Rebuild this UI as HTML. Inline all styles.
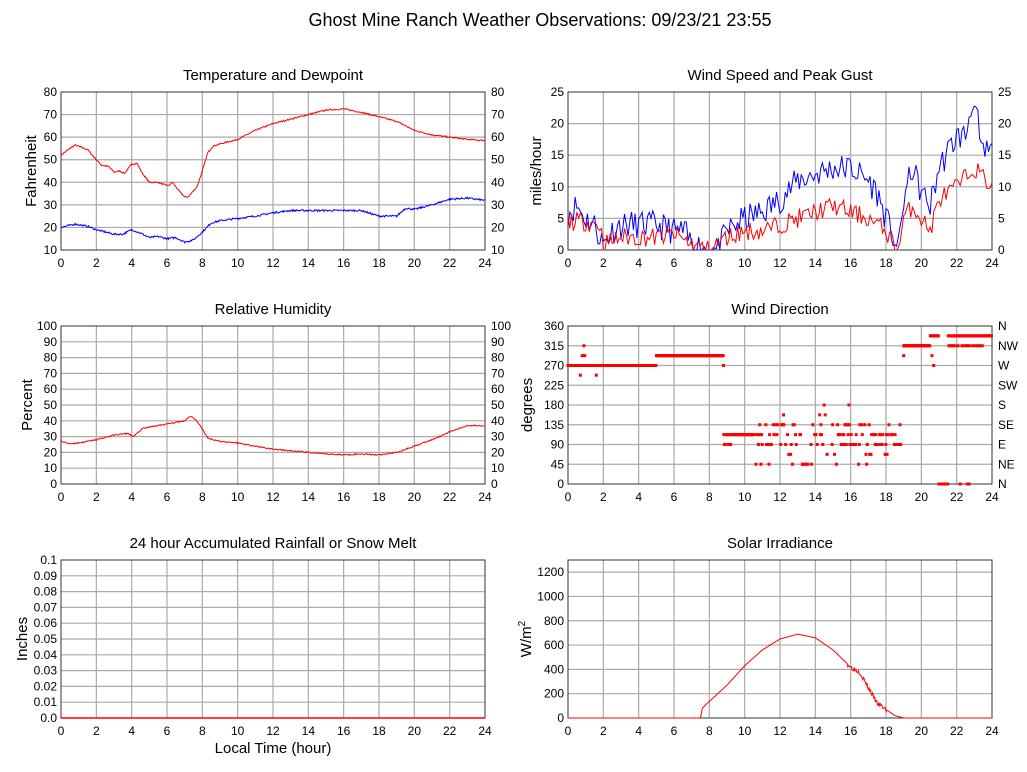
<!DOCTYPE html>
<html><head><meta charset="utf-8"><style>
html,body{margin:0;padding:0;background:#fff;}
svg{display:block;font-family:"Liberation Sans",Arial,sans-serif;}
</style></head><body>
<svg id="s" width="1027" height="772" xmlns="http://www.w3.org/2000/svg">
<rect width="1027" height="772" fill="#fff"/>
<text x="540" y="26" font-size="18" text-anchor="middle">Ghost Mine Ranch Weather Observations: 09/23/21 23:55</text>
</svg>
<script>
var S=document.getElementById('s'),NS='http://www.w3.org/2000/svg';
function el(t,a,txt){var e=document.createElementNS(NS,t);for(var k in a)e.setAttribute(k,a[k]);if(txt!=null)e.textContent=txt;S.appendChild(e);return e;}
var seed=7;function rnd(){seed=(seed*16807)%2147483647;return seed/2147483647;}
function interp(kp,t){for(var i=0;i<kp.length-1;i++){if(t>=kp[i][0]&&t<=kp[i+1][0]){var f=(t-kp[i][0])/(kp[i+1][0]-kp[i][0]);return kp[i][1]+f*(kp[i+1][1]-kp[i][1]);}}return kp[kp.length-1][1];}
function panel(o){
 var x0=o.x,x1=o.x+424,y0=o.y,y1=o.y+158;
 el('text',{x:(x0+x1)/2,y:y0-12,'font-size':15,'text-anchor':'middle'},o.title);
 for(var h=2;h<24;h+=2){var x=x0+h/24*424;el('line',{x1:x,y1:y0,x2:x,y2:y1,stroke:'#aaa','stroke-width':1.2});}
 var n=o.ticks.length;
 for(var i=0;i<n;i++){var v=o.ticks[i];var y=y1-(v-o.min)/(o.max-o.min)*158;
  if(y>y0+0.5&&y<y1-0.5)el('line',{x1:x0,y1:y,x2:x1,y2:y,stroke:'#aaa','stroke-width':1.2});
  el('text',{x:x0-4,y:y+4,'font-size':12,'text-anchor':'end'},o.tl?o.tl[i]:v);
  if(o.rt)el('text',{x:x1+6,y:y+4,'font-size':12},o.rt[i]);}
 for(var h=0;h<=24;h+=2){el('text',{x:x0+h/24*424,y:y1+17,'font-size':12,'text-anchor':'middle'},h);}
 el('rect',{x:x0,y:y0,width:424,height:158,fill:'none',stroke:'#333','stroke-width':1});
 el('text',{x:0,y:0,'font-size':15,'text-anchor':'middle',transform:'translate('+(o.ylx)+','+((y0+y1)/2)+') rotate(-90)'},o.ylabel);
 o.X=function(h){return x0+h/24*424;};o.Y=function(v){return y1-(v-o.min)/(o.max-o.min)*158;};
 return o;}
function series(p,kp,noise,col,step,clamp){var pts=[];step=step||0.04;
 for(var t=0;t<=24.001;t+=step){var v=interp(kp,t)+(rnd()-0.5)*2*noise;if(clamp!=null&&v<clamp)v=clamp;if(v>p.max)v=p.max;pts.push(p.X(t).toFixed(1)+','+p.Y(v).toFixed(1));}
 el('polyline',{points:pts.join(' '),fill:'none',stroke:col,'stroke-width':1});}
function rng(a,b,s){var r=[];for(var v=a;v<=b+1e-9;v+=s)r.push(v);return r;}

var T=panel({x:61,y:92,min:10,max:80,ticks:rng(10,80,10),rt:rng(10,80,10),title:'Temperature and Dewpoint',ylabel:'Fahrenheit',ylx:36});
series(T,[[0,52],[0.5,55],[0.8,56.5],[1.5,54.5],[2,50],[2.3,47.5],[2.7,47],[3,44.5],[3.3,45],[3.6,44],[4,48],[4.3,48.5],[4.6,44],[5,40],[5.5,40],[5.8,39],[6.1,38.5],[6.3,40],[6.7,36],[7,33.5],[7.2,33.5],[7.7,38],[8,45],[8.3,53],[8.6,56],[9,57],[10,59],[11,63],[12,66],[13,68],[14,70],[15,72],[16,72.5],[17,71],[18,69],[19,67],[20,63],[21,61],[22,60],[23,59],[24,58.5]],0.3,'#f00');
series(T,[[0,20],[0.8,21.5],[1.5,20.5],[2,19],[3,17],[3.5,17],[4,19],[4.5,17.5],[5,15.5],[5.5,16],[6,15],[6.5,15.5],[7,13.5],[7.5,14.5],[8,18],[8.5,22],[9,23],[10,24],[11,25],[12,26.5],[13,27.5],[14,27.5],[15,27.5],[16,27.5],[17,27.5],[18,25],[19,25],[19.5,28.5],[20,28],[21,30],[22,32.5],[23,33],[24,32]],0.4,'#00f');

var W=panel({x:568,y:92,min:0,max:25,ticks:rng(0,25,5),rt:rng(0,25,5),title:'Wind Speed and Peak Gust',ylabel:'miles/hour',ylx:541});
seed=11;
series(W,[[0,6],[0.5,7],[1,5],[1.5,4],[2,1],[2.5,3],[3,4],[4,4],[5,4],[6,3],[6.5,3],[7,1],[8,0],[8.5,0],[9,3],[10,5],[11,6],[12,8],[13,11],[14,12],[15,13],[16,13],[17,11],[17.5,9],[18,5],[18.7,0],[19,8],[19.5,13],[20,9],[20.5,7],[21,13],[22,18],[22.5,18],[22.9,24],[23.2,20],[23.4,15],[24,16]],2.2,'#00f',0.1,0);
series(W,[[0,4.5],[1,4.5],[1.8,4],[2,1],[3,2],[4,2],[5,2],[6,2.5],[7,1],[8,0],[9,2],[10,3],[11,3],[12,4],[13,5],[14,6],[15,7],[16,6],[17,5],[18,3],[18.7,0],[19,5],[19.5,7],[20,5],[20.5,3],[21,8],[22,10],[23,13],[24,10]],1.5,'#f00',0.1,0);

var R=panel({x:61,y:326,min:0,max:100,ticks:rng(0,100,10),rt:rng(0,100,10),title:'Relative Humidity',ylabel:'Percent',ylx:32});
series(R,[[0,27],[0.5,25.5],[1,26],[2,28],[3,31],[3.8,32],[4.1,30],[4.6,35],[5,36],[6,38],[7,40],[7.3,43],[7.6,41],[8,35],[8.3,29],[9,27],[10,26],[11,24],[12,22],[13,21],[14,20],[15,19],[16,18.5],[17,19],[18,18.5],[19,20],[20,24],[21,28],[22,33],[23,37],[24,37]],0.4,'#f00');

var D=panel({x:568,y:326,min:0,max:360,ticks:rng(0,360,45),rt:['N','NE','E','SE','S','SW','W','NW','N'],title:'Wind Direction',ylabel:'degrees',ylx:532});
seed=5;
function sq(t,v){el('rect',{x:D.X(t)-1.5,y:D.Y(v)-1.5,width:3,height:3,fill:'#f00'});}
for(var t=0;t<=24;t+=0.035){var v;
 if(t<5)v=270;else if(t<8.8)v=292.5;else if(t<9.3)v=(rnd()<0.5?112.5:90);else if(t<10.5)v=112.5;
 else if(t<19){var r=rnd();v=r<0.35?112.5:r<0.65?90:r<0.85?135:r<0.93?67.5:r<0.97?45:157.5;if(t>13.2&&t<13.6)v=45;}
 else if(t<20.5)v=315;else if(t<21)v=337.5;else if(t<21.5)v=0;else v=(rnd()<0.7?337.5:315);
 if(t>10.5&&t<19&&rnd()<0.45)continue;
 sq(t,v);}
[[0.7,248],[0.8,292.5],[0.95,292.5],[0.9,315],[1.6,248],[8.8,270],[19,292.5],[20.6,292.5],[20.7,270],[14.5,180],[15.9,180],[12.2,157.5],[22.2,0],[22.6,0],[22.7,0]].forEach(function(a){sq(a[0],a[1]);});

var N=panel({x:61,y:560,min:0,max:0.1,ticks:rng(0,10,1).map(function(v){return v/100;}),tl:['0.0','0.01','0.02','0.03','0.04','0.05','0.06','0.07','0.08','0.09','0.1'],title:'24 hour Accumulated Rainfall or Snow Melt',ylabel:'Inches',ylx:27});
el('line',{x1:61,y1:718,x2:485,y2:718,stroke:'#f00','stroke-width':1.5});
el('text',{x:273,y:753,'font-size':15,'text-anchor':'middle'},'Local Time (hour)');

var P=panel({x:568,y:560,min:0,max:1300,ticks:rng(0,1200,200),title:'Solar Irradiance',ylabel:'',ylx:530});
var yl=el('text',{x:0,y:0,'font-size':15,'text-anchor':'middle',transform:'translate(531,639) rotate(-90)'});
yl.innerHTML='W/m<tspan dy="-6" font-size="10">2</tspan>';
seed=3;
(function(){var kp=[[0,0],[7.5,0],[7.6,80],[7.8,110],[9,270],[10,430],[11,560],[12,650],[13,690],[14,660],[15,560],[16,420],[16.5,380],[17,250],[17.5,120],[18,70],[18.5,20],[19,0],[24,0]];var pts=[];
for(var t=0;t<=24.001;t+=0.04){var v=interp(kp,t);if(t>15.8&&t<18)v+=(rnd()-0.5)*40;if(v<0)v=0;pts.push(P.X(t).toFixed(1)+','+P.Y(v).toFixed(1));}
el('polyline',{points:pts.join(' '),fill:'none',stroke:'#f00','stroke-width':1});})();
</script>
</body></html>
